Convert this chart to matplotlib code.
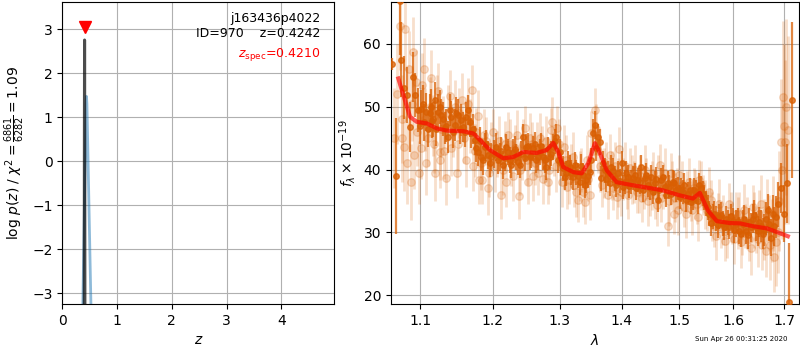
import matplotlib
matplotlib.use("Agg")
import matplotlib.pyplot as plt
from matplotlib.ticker import FixedLocator, FixedFormatter, NullLocator

# ---- redshift probability panel ----
pz_z = [0.398, 0.402, 0.405, 0.408, 0.412]
pz_logp = [-4.5, 0.5, 2.75, 0.5, -4.5]
chi_z = [0.373, 0.432, 0.440, 0.448, 0.522]
chi_logp = [-3.3, 1.3, 1.47, 1.3, -3.3]
z_best = 0.4242
z_spec = 0.4210
z_ticks = [0, 1, 2, 3, 4]
logp_ticks = [-3, -2, -1, 0, 1, 2, 3]

# ---- spectrum panel ----
model_wave = [1.0718, 1.0762, 1.0869, 1.0957, 1.1088, 1.1222, 1.1357, 1.1584,
              1.1724, 1.1818, 1.1959, 1.2151, 1.2297, 1.2445, 1.2646, 1.2798,
              1.2900, 1.2976, 1.3054, 1.3212, 1.3344, 1.3450, 1.3558, 1.3640,
              1.3750, 1.3914, 1.4193, 1.4420, 1.4704, 1.5007, 1.5243, 1.5370,
              1.5519, 1.5686, 1.5931, 1.6123, 1.6375, 1.6652, 1.6912, 1.7075]
model_flux = [54.5, 52.7, 48.4, 47.6, 47.35, 46.55, 46.2, 46.1,
              45.75, 44.7, 43.1, 41.8, 42.0, 42.8, 42.65, 43.1,
              44.25, 42.8, 40.4, 39.6, 39.4, 41.0, 44.2, 42.6,
              39.9, 38.0, 37.5, 37.15, 36.7, 35.9, 35.4, 36.3,
              33.5, 31.8, 31.5, 31.45, 31.0, 30.65, 29.9, 29.4]

# first spectrum (strong)
wave_a = [1.0638, 1.0685, 1.0736, 1.0757, 1.0792, 1.0834, 1.0869, 1.0908,
          1.0938, 1.0974, 1.1017, 1.1050, 1.1083, 1.1128, 1.1160, 1.1195,
          1.1239, 1.1284, 1.1329, 1.1374, 1.1419, 1.1466, 1.1511, 1.1556,
          1.1580, 1.1626, 1.1673, 1.1695, 1.1743, 1.1789, 1.1836, 1.1884,
          1.1931, 1.1978, 1.2050, 1.2099, 1.2147, 1.2195, 1.2244, 1.2293,
          1.2341, 1.2391, 1.2440, 1.2489, 1.2540, 1.2590, 1.2640, 1.2691,
          1.2741, 1.2792, 1.2844, 1.2895, 1.2946, 1.2998, 1.3050, 1.3101,
          1.3155, 1.3207, 1.3259, 1.3313, 1.3365, 1.3418, 1.3473, 1.3526,
          1.3553, 1.3607, 1.3634, 1.3660, 1.3716, 1.3770, 1.3824, 1.3880,
          1.3935, 1.4002, 1.4047, 1.4102, 1.4158, 1.4216, 1.4272, 1.4328,
          1.4386, 1.4443, 1.4500, 1.4559, 1.4617, 1.4674, 1.4734, 1.4792,
          1.4822, 1.4881, 1.4940, 1.5001, 1.5060, 1.5119, 1.5181, 1.5241,
          1.5301, 1.5363, 1.5424, 1.5485, 1.5548, 1.5609, 1.5671, 1.5734,
          1.5796, 1.5859, 1.5923, 1.5986, 1.6049, 1.6114, 1.6178, 1.6242,
          1.6308, 1.6372, 1.6437, 1.6504, 1.6569, 1.6635, 1.6702, 1.6768,
          1.6834, 1.6870, 1.6935, 1.6990, 1.7057, 1.7106, 1.7153,
          1.1000, 1.1035, 1.1105, 1.1145, 1.1178, 1.1217, 1.1262, 1.1306,
          1.1352, 1.1397, 1.1443, 1.1489, 1.1533, 1.1603, 1.1650, 1.1720,
          1.1766, 1.1812, 1.1860, 1.1908, 1.1955, 1.2015, 1.2075, 1.2123,
          1.2171, 1.2220, 1.2268, 1.2317, 1.2366, 1.2415, 1.2465, 1.2515,
          1.2565, 1.2615, 1.2665, 1.2716, 1.2766, 1.2818, 1.2870, 1.2920,
          1.2972, 1.3024, 1.3076, 1.3128, 1.3181, 1.3233, 1.3286, 1.3339,
          1.3391, 1.3445, 1.3499, 1.3580, 1.3688, 1.3743, 1.3797, 1.3852,
          1.3907, 1.3968, 1.4024, 1.4075, 1.4130, 1.4187, 1.4244, 1.4300,
          1.4357, 1.4414, 1.4472, 1.4530, 1.4588, 1.4645, 1.4704, 1.4763,
          1.4851, 1.4910, 1.4970, 1.5030, 1.5090, 1.5150, 1.5210, 1.5271,
          1.5332, 1.5394, 1.5455, 1.5516, 1.5578, 1.5640, 1.5702, 1.5765,
          1.5828, 1.5891, 1.5955, 1.6018, 1.6082, 1.6146, 1.6210, 1.6275,
          1.6340, 1.6405, 1.6470, 1.6536, 1.6602, 1.6668, 1.6735, 1.6800]
flux_a = [56.8, 39.0, 66.8, 57.5, 53.0, 51.9, 46.8, 54.7,
          51.9, 49.5, 49.7, 47.5, 49.2, 49.0, 47.8, 51.1,
          49.2, 48.7, 46.6, 45.2, 48.4, 47.1, 48.7, 47.9,
          46.8, 48.4, 47.6, 45.8, 44.7, 42.8, 42.0, 43.6,
          42.3, 42.0, 43.6, 42.0, 40.7, 43.6, 41.5, 42.8,
          42.0, 40.7, 45.2, 43.6, 42.0, 43.4, 41.5, 42.8,
          42.0, 40.4, 42.0, 43.6, 45.2, 42.8, 40.2, 39.4,
          40.4, 38.8, 39.6, 38.0, 39.1, 38.3, 39.6, 45.8,
          47.1, 45.2, 44.4, 38.6, 39.9, 39.4, 40.4, 38.6,
          39.4, 41.0, 38.0, 38.8, 38.0, 39.1, 38.3, 40.4,
          38.6, 37.5, 38.8, 37.8, 35.1, 38.3, 37.2, 37.8,
          37.2, 38.0, 36.7, 35.6, 36.4, 35.1, 36.7, 35.4,
          36.4, 37.5, 36.2, 34.6, 33.0, 32.5, 32.2, 32.5,
          31.4, 32.2, 30.9, 31.9, 31.4, 30.3, 31.4, 30.3,
          31.7, 32.2, 30.9, 31.7, 29.8, 32.2, 31.4, 33.0,
          32.5, 34.5, 37.1, 33.0, 37.8, 18.9, 51.1,
          47.0, 50.5, 46.5, 50.0, 48.0, 46.5, 50.0, 48.0,
          47.0, 49.5, 46.0, 49.0, 46.5, 46.0, 49.5, 46.5,
          43.5, 44.5, 41.5, 44.0, 41.0, 42.5, 41.5, 43.0,
          41.8, 42.8, 40.8, 43.2, 41.2, 42.5, 41.8, 43.8,
          42.2, 44.0, 42.0, 43.8, 41.5, 43.2, 42.5, 44.5,
          41.5, 41.0, 38.8, 41.0, 39.5, 40.8, 39.0, 40.5,
          37.5, 39.0, 41.5, 43.5, 41.0, 38.5, 37.8, 39.8,
          37.5, 38.2, 37.2, 39.5, 37.4, 38.6, 37.0, 38.0,
          36.8, 39.2, 37.0, 36.5, 38.5, 36.8, 38.8, 36.0,
          36.2, 37.8, 37.0, 36.8, 37.5, 36.2, 34.8, 36.8,
          35.0, 37.0, 35.5, 34.0, 31.5, 33.0, 31.2, 32.8,
          30.8, 31.6, 32.6, 30.4, 31.8, 29.8, 32.2, 29.6,
          30.8, 32.8, 30.2, 31.0, 30.4, 33.5, 29.2, 31.0]
err_a = [1.0, 9.2, 8.5, 6.0, 5.0, 4.5, 4.0, 4.0,
         3.5, 3.5, 3.0, 3.0, 3.0, 3.0, 2.8, 2.8,
         2.8, 2.6, 2.6, 2.6, 2.5, 2.5, 2.5, 2.5,
         2.4, 2.4, 2.4, 2.4, 2.3, 2.3, 2.3, 2.3,
         2.2, 2.2, 2.2, 2.2, 2.2, 2.1, 2.1, 2.1,
         2.1, 2.1, 2.1, 2.0, 2.0, 2.0, 2.0, 2.0,
         2.0, 2.0, 2.0, 2.0, 2.0, 2.0, 2.0, 2.0,
         2.0, 2.0, 2.0, 2.0, 2.0, 2.0, 2.0, 2.2,
         2.2, 2.0, 2.0, 2.0, 2.0, 2.0, 2.0, 2.0,
         2.0, 2.0, 1.9, 1.9, 1.9, 1.9, 1.9, 1.9,
         1.9, 1.9, 1.9, 1.9, 1.9, 1.9, 1.9, 1.9,
         1.9, 1.9, 1.9, 1.9, 1.9, 1.9, 1.9, 1.9,
         1.9, 2.0, 2.0, 2.0, 2.0, 2.0, 2.0, 2.0,
         2.0, 2.0, 2.0, 2.0, 2.1, 2.1, 2.1, 2.2,
         2.2, 2.3, 2.3, 2.4, 2.5, 2.6, 2.8, 3.0,
         3.3, 3.6, 4.0, 4.5, 6.3, 9.5, 12.4,
         3.0, 3.0, 2.9, 2.9, 2.8, 2.8, 2.7, 2.7,
         2.6, 2.6, 2.5, 2.5, 2.5, 2.4, 2.4, 2.4,
         2.3, 2.3, 2.3, 2.3, 2.2, 2.2, 2.2, 2.2,
         2.1, 2.1, 2.1, 2.1, 2.1, 2.1, 2.0, 2.0,
         2.0, 2.0, 2.0, 2.0, 2.0, 2.0, 2.0, 2.0,
         2.0, 2.0, 2.0, 2.0, 2.0, 2.0, 2.0, 2.0,
         2.0, 2.0, 2.0, 2.1, 2.0, 2.0, 2.0, 2.0,
         1.9, 1.9, 1.9, 1.9, 1.9, 1.9, 1.9, 1.9,
         1.9, 1.9, 1.9, 1.9, 1.9, 1.9, 1.9, 1.9,
         1.9, 1.9, 1.9, 1.9, 1.9, 1.9, 1.9, 1.9,
         2.0, 2.0, 2.0, 2.0, 2.0, 2.0, 2.0, 2.0,
         2.0, 2.0, 2.0, 2.1, 2.1, 2.1, 2.2, 2.2,
         2.3, 2.3, 2.4, 2.5, 2.6, 2.7, 2.9, 3.1]

# second spectrum (faint)
wave_b = [1.0660, 1.0736, 1.0770, 1.0792, 1.0810, 1.0850, 1.0880, 1.0908,
          1.0925, 1.0950, 1.0990, 1.1030, 1.1065, 1.1100, 1.1150, 1.1180,
          1.1220, 1.1260, 1.1265, 1.1300, 1.1350, 1.1400, 1.1440, 1.1490,
          1.1530, 1.1600, 1.1650, 1.1700, 1.1720, 1.1760, 1.1810, 1.1850,
          1.1900, 1.1950, 1.2000, 1.2060, 1.2120, 1.2170, 1.2220, 1.2270,
          1.2320, 1.2380, 1.2420, 1.2470, 1.2520, 1.2570, 1.2620, 1.2670,
          1.2720, 1.2770, 1.2820, 1.2860, 1.2910, 1.2960, 1.3010, 1.3070,
          1.3120, 1.3180, 1.3230, 1.3290, 1.3340, 1.3400, 1.3450, 1.3500,
          1.3560, 1.3600, 1.3680, 1.3740, 1.3800, 1.3860, 1.3920, 1.3960,
          1.4020, 1.4080, 1.4140, 1.4200, 1.4260, 1.4310, 1.4370, 1.4420,
          1.4480, 1.4540, 1.4600, 1.4650, 1.4710, 1.4790, 1.4850, 1.4900,
          1.4950, 1.5000, 1.5080, 1.5140, 1.5200, 1.5260, 1.5320, 1.5360,
          1.5420, 1.5500, 1.5570, 1.5630, 1.5700, 1.5760, 1.5840, 1.5920,
          1.5980, 1.6050, 1.6110, 1.6160, 1.6230, 1.6300, 1.6370, 1.6440,
          1.6500, 1.6560, 1.6630, 1.6690, 1.6760, 1.6800, 1.6870, 1.6935,
          1.6980, 1.7020, 1.7040, 1.7080,
          1.0700, 1.0760, 1.0830, 1.0890, 1.0960, 1.1010, 1.1048, 1.1085,
          1.1125, 1.1165, 1.1200, 1.1240, 1.1280, 1.1325, 1.1375, 1.1420,
          1.1465, 1.1510, 1.1560, 1.1620, 1.1670, 1.1740, 1.1785, 1.1830,
          1.1875, 1.1925, 1.1975, 1.2030, 1.2090, 1.2145, 1.2195, 1.2245,
          1.2295, 1.2350, 1.2400, 1.2445, 1.2495, 1.2545, 1.2595, 1.2645,
          1.2695, 1.2745, 1.2795, 1.2840, 1.2885, 1.2935, 1.2985, 1.3040,
          1.3095, 1.3150, 1.3205, 1.3260, 1.3315, 1.3370, 1.3425, 1.3475,
          1.3530, 1.3580, 1.3640, 1.3710, 1.3770, 1.3830, 1.3890, 1.3940,
          1.3990, 1.4050, 1.4110, 1.4170, 1.4230, 1.4285, 1.4340, 1.4395,
          1.4450, 1.4510, 1.4570, 1.4625, 1.4680, 1.4740, 1.4820, 1.4875,
          1.4925, 1.4975, 1.5040, 1.5110, 1.5170, 1.5230, 1.5290, 1.5345,
          1.5400, 1.5460, 1.5535, 1.5600, 1.5665, 1.5730, 1.5800, 1.5870,
          1.5950, 1.6010, 1.6080, 1.6140, 1.6200, 1.6270, 1.6335, 1.6405,
          1.6470, 1.6530, 1.6600, 1.6660, 1.6720, 1.6780, 1.6840, 1.6900,
          1.6960, 1.7000]
flux_b = [45.0, 62.8, 45.0, 43.6, 62.3, 56.0, 38.0, 58.7,
          42.4, 54.0, 39.5, 53.5, 48.0, 45.0, 54.5, 44.0,
          50.5, 42.8, 41.6, 47.5, 38.6, 51.7, 46.0, 39.5,
          49.0, 45.0, 50.5, 52.6, 40.6, 46.0, 38.4, 38.3,
          44.5, 39.4, 46.0, 42.5, 35.9, 44.0, 45.5, 41.0,
          43.5, 35.8, 42.0, 46.6, 38.0, 44.0, 41.0, 39.4,
          43.5, 41.5, 38.0, 46.3, 42.5, 46.6, 41.0, 43.6,
          37.2, 40.5, 37.5, 35.1, 40.0, 34.9, 38.5, 45.8,
          49.5, 43.0, 37.5, 41.0, 42.3, 37.0, 35.6, 43.3,
          38.5, 37.0, 40.2, 38.0, 36.4, 39.0, 37.0, 38.5,
          36.0, 39.5, 34.3, 40.7, 37.0, 31.1, 39.4, 33.0,
          37.0, 39.1, 34.0, 36.5, 35.0, 37.0, 34.5, 38.3,
          36.0, 33.5, 35.1, 31.0, 33.0, 30.9, 28.7, 34.6,
          31.5, 33.0, 33.0, 29.8, 31.0, 29.0, 34.0, 30.5,
          33.0, 28.0, 27.1, 31.5, 30.3, 26.1, 30.0, 44.4,
          51.6, 44.4, 50.0, 46.3,
          52.0, 48.0, 41.0, 50.5, 46.0, 43.5, 56.0, 41.0,
          50.0, 47.0, 39.5, 52.5, 46.5, 43.0, 49.0, 43.5,
          50.0, 44.0, 51.0, 41.5, 47.0, 43.0, 48.5, 41.0,
          45.5, 37.0, 43.5, 40.5, 44.5, 40.0, 38.0, 44.0,
          39.0, 45.5, 40.0, 44.0, 41.5, 45.0, 39.0, 43.5,
          45.0, 38.5, 44.5, 40.0, 47.5, 40.5, 44.0, 38.0,
          41.5, 38.5, 42.0, 36.5, 39.0, 36.5, 41.5, 36.0,
          43.0, 46.5, 40.5, 39.5, 36.0, 39.0, 40.5, 38.0,
          36.5, 40.5, 36.0, 38.5, 40.0, 37.0, 35.5, 40.0,
          35.0, 37.5, 36.0, 38.5, 35.5, 39.5, 35.0, 37.5,
          35.5, 33.5, 37.5, 33.0, 38.0, 33.5, 36.0, 32.5,
          37.5, 34.5, 36.5, 32.5, 29.5, 34.5, 32.0, 30.0,
          32.5, 29.0, 31.5, 28.5, 33.5, 31.5, 27.5, 32.0,
          29.0, 34.5, 30.5, 33.5, 28.0, 33.0, 28.5, 35.0,
          40.0, 47.0]
err_b = [8.0, 7.0, 7.0, 7.0, 6.5, 6.0, 6.0, 5.5,
         5.5, 5.0, 5.0, 5.0, 5.0, 4.5, 4.5, 4.5,
         4.5, 4.5, 4.5, 4.2, 4.2, 4.2, 4.0, 4.0,
         4.0, 4.0, 4.0, 4.0, 4.0, 3.8, 3.8, 3.8,
         3.8, 3.8, 3.7, 3.7, 3.7, 3.7, 3.6, 3.6,
         3.6, 3.6, 3.6, 3.5, 3.5, 3.5, 3.5, 3.5,
         3.5, 3.5, 3.5, 3.5, 3.5, 3.5, 3.5, 3.5,
         3.5, 3.5, 3.5, 3.5, 3.5, 3.5, 3.5, 3.5,
         3.5, 3.5, 3.4, 3.4, 3.4, 3.4, 3.4, 3.4,
         3.3, 3.3, 3.3, 3.3, 3.3, 3.3, 3.3, 3.3,
         3.3, 3.3, 3.3, 3.3, 3.3, 3.3, 3.2, 3.2,
         3.2, 3.2, 3.2, 3.2, 3.2, 3.2, 3.2, 3.2,
         3.2, 3.2, 3.2, 3.3, 3.3, 3.3, 3.3, 3.3,
         3.3, 3.4, 3.4, 3.4, 3.5, 3.5, 3.6, 3.7,
         3.8, 4.0, 4.2, 4.5, 5.0, 5.5, 6.5, 10.0,
         12.0, 13.0, 14.0, 15.0,
         8.0, 7.0, 6.5, 6.0, 5.5, 5.0, 5.0, 5.0,
         4.8, 4.8, 4.5, 4.5, 4.5, 4.5, 4.5, 4.5,
         4.3, 4.3, 4.3, 4.3, 4.3, 4.2, 4.2, 4.2,
         4.2, 4.2, 4.0, 4.0, 4.0, 4.0, 4.0, 4.0,
         4.0, 4.0, 4.0, 4.0, 4.0, 4.0, 4.0, 4.0,
         4.0, 4.0, 4.0, 4.0, 4.0, 4.0, 4.0, 4.0,
         4.0, 4.0, 4.0, 4.0, 4.0, 4.0, 4.0, 4.0,
         4.0, 4.0, 4.0, 4.0, 3.9, 3.9, 3.9, 3.9,
         3.9, 3.9, 3.9, 3.9, 3.9, 3.9, 3.9, 3.9,
         3.9, 3.9, 3.9, 3.9, 3.9, 3.9, 3.9, 3.9,
         3.9, 3.9, 3.9, 3.9, 3.9, 3.9, 3.9, 3.9,
         3.9, 3.9, 3.9, 3.9, 3.9, 4.0, 4.0, 4.0,
         4.0, 4.0, 4.1, 4.1, 4.2, 4.2, 4.3, 4.4,
         4.5, 4.6, 4.8, 5.0, 5.5, 6.0, 7.0, 8.0,
         11.0, 13.0]

wave_ticks = [1.1, 1.2, 1.3, 1.4, 1.5, 1.6, 1.7]
flux_ticks = [20, 30, 40, 50, 60]

spec_color = '#d95f02'

fig = plt.figure(figsize=(8, 3.5), dpi=100)
ax1 = fig.add_axes([0.078, 0.131, 0.340, 0.864])
ax2 = fig.add_axes([0.4885, 0.131, 0.510, 0.864])

# p(z)
ax1.plot(chi_z, chi_logp, color='tab:blue', alpha=0.5, lw=2)
ax1.plot(pz_z, pz_logp, color='k', alpha=0.7, lw=2.2)
ax1.plot([z_spec], [3.05], marker='v', color='red', ms=8, linestyle='None')
ax1.set_xlim(0, 4.97)
ax1.set_ylim(-3.25, 3.62)
ax1.set_xticks(z_ticks)
ax1.set_yticks(logp_ticks)
ax1.grid()
ax1.set_xlabel('$z$')
ax1.set_ylabel(r'log $p(z)$ / $\chi^2=\frac{6861}{6282}=1.09$')
ax1.text(0.95, 0.965, 'j163436p4022\nID=970    z={0:.4f}'.format(z_best),
         transform=ax1.transAxes, ha='right', va='top', fontsize=9)
ax1.text(0.95, 0.855, r'$z_\mathrm{spec}$' + '={0:.4f}'.format(z_spec),
         transform=ax1.transAxes, ha='right', va='top', fontsize=9, color='red')

# spectrum
ax2.errorbar(wave_b, flux_b, yerr=err_b, color=spec_color, alpha=0.2,
             marker='o', ms=5.5, linestyle='None', elinewidth=2, zorder=2)
ax2.errorbar(wave_a, flux_a, yerr=err_a, color=spec_color, alpha=0.75,
             marker='o', ms=4, linestyle='None', elinewidth=1.6, zorder=3)
ax2.plot(model_wave, model_flux, color='red', alpha=0.65, lw=3, zorder=4)
ax2.set_xscale('log')
ax2.set_xlim(1.0622, 1.730)
ax2.set_ylim(18.6, 66.7)
ax2.xaxis.set_major_locator(FixedLocator(wave_ticks))
ax2.xaxis.set_major_formatter(FixedFormatter(['{0:.1f}'.format(w) for w in wave_ticks]))
ax2.xaxis.set_minor_locator(NullLocator())
ax2.set_yticks(flux_ticks)
ax2.grid()
ax2.set_xlabel(r'$\lambda$')
ax2.set_ylabel(r'$f_\lambda \times 10^{-19}$')

fig.text(0.984, 0.031, 'Sun Apr 26 00:31:25 2020', ha='right', va='center', fontsize=5)

fig.savefig('out.png', dpi=100)
